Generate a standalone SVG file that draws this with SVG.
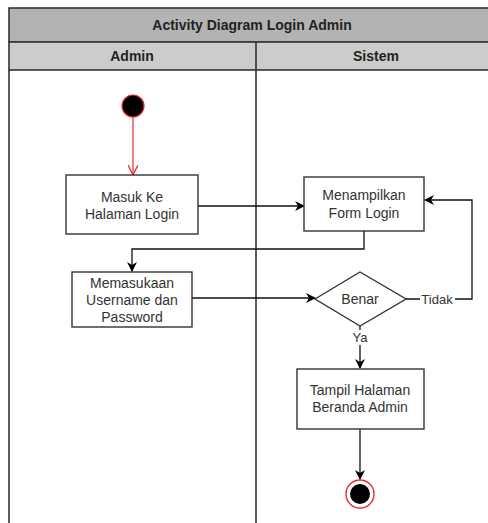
<svg xmlns="http://www.w3.org/2000/svg" width="488" height="523" viewBox="0 0 488 523">
  <defs>
    <marker id="arrow" viewBox="0 0 10 10" refX="9" refY="5" markerWidth="10" markerHeight="10" markerUnits="userSpaceOnUse" orient="auto">
      <path d="M0,0 L10,5 L0,10 L3,5 Z" fill="#000"/>
    </marker>
    <marker id="arrowOpen" viewBox="0 0 10 10" refX="9" refY="5" markerWidth="10" markerHeight="10" markerUnits="userSpaceOnUse" orient="auto">
      <path d="M0,0 L10,5 L0,10" fill="none" stroke="#e03030" stroke-width="1.3"/>
    </marker>
  </defs>
  <style>
    .frame { stroke: #333; stroke-width: 1.6; }
    .box { fill: #fff; stroke: #333; stroke-width: 1.4; }
    .lbl { font-family: "Liberation Sans", Arial, sans-serif; font-size: 14px; fill: #333; text-anchor: middle; }
    .hdr { font-family: "Liberation Sans", Arial, sans-serif; font-size: 14px; font-weight: bold; fill: #222; text-anchor: middle; }
    .edge { fill: none; stroke: #111; stroke-width: 1.3; }
    .elbl { font-family: "Liberation Sans", Arial, sans-serif; font-size: 13px; fill: #333; text-anchor: middle; }
  </style>
  <rect width="488" height="523" fill="#fff"/>

  <!-- swimlane pool -->
  <g id="pool">
    <rect x="9" y="8" width="490" height="34" fill="#b3b3b3" class="frame"/>
    <rect x="9" y="42" width="490" height="28" fill="#cccccc" class="frame"/>
    <line x1="9" y1="70" x2="9" y2="523" class="frame"/>
    <line x1="256" y1="42" x2="256" y2="523" class="frame"/>
    <text x="252" y="30" class="hdr">Activity Diagram Login Admin</text>
    <text x="132" y="61" class="hdr">Admin</text>
    <text x="376" y="61" class="hdr">Sistem</text>
  </g>

  <!-- connectors -->
  <g id="connectors">
    <line x1="133" y1="116" x2="133" y2="174" fill="none" stroke="#e03030" stroke-width="1.2" marker-end="url(#arrowOpen)"/>
    <path d="M198,206 L304,206" class="edge" marker-end="url(#arrow)"/>
    <path d="M364,231 L364,249 L132,249 L132,271" class="edge" marker-end="url(#arrow)"/>
    <path d="M192,298 L315,298" class="edge" marker-end="url(#arrow)"/>
    <path d="M406,299 L472,299 L472,200 L425,200" class="edge" marker-end="url(#arrow)"/>
    <path d="M360,326 L360,368" class="edge" marker-end="url(#arrow)"/>
    <path d="M360,429 L360,479" class="edge" marker-end="url(#arrow)"/>
    <rect x="420" y="291" width="35" height="16" fill="#fff"/>
    <text x="437" y="304" class="elbl">Tidak</text>
    <rect x="351" y="330" width="18" height="15" fill="#fff"/>
    <text x="360" y="342" class="elbl">Ya</text>
  </g>

  <g id="start">
    <circle cx="133" cy="106" r="11" fill="#000" stroke="#e03030" stroke-width="1.2"/>
  </g>

  <g id="masuk">
    <rect x="66" y="175" width="132" height="59" class="box"/>
    <text x="132" y="202" class="lbl">Masuk Ke</text>
    <text x="132" y="219" class="lbl">Halaman Login</text>
  </g>

  <g id="form">
    <rect x="304" y="177" width="120" height="54" class="box"/>
    <text x="364" y="200" class="lbl">Menampilkan</text>
    <text x="364" y="218" class="lbl">Form Login</text>
  </g>

  <g id="input">
    <rect x="72" y="272" width="120" height="55" class="box"/>
    <text x="132" y="288" class="lbl">Memasukaan</text>
    <text x="132" y="305" class="lbl">Username dan</text>
    <text x="132" y="322" class="lbl">Password</text>
  </g>

  <g id="benar">
    <polygon points="315,299 360,272 406,299 360,326" class="box"/>
    <text x="360" y="304" class="lbl">Benar</text>
  </g>

  <g id="beranda">
    <rect x="297" y="369" width="127" height="60" class="box"/>
    <text x="360" y="395" class="lbl">Tampil Halaman</text>
    <text x="360" y="412" class="lbl">Beranda Admin</text>
  </g>

  <g id="end">
    <circle cx="360" cy="494" r="14" fill="#fff" stroke="#e03030" stroke-width="1.4"/>
    <circle cx="360" cy="494" r="10" fill="#000"/>
  </g>
</svg>
